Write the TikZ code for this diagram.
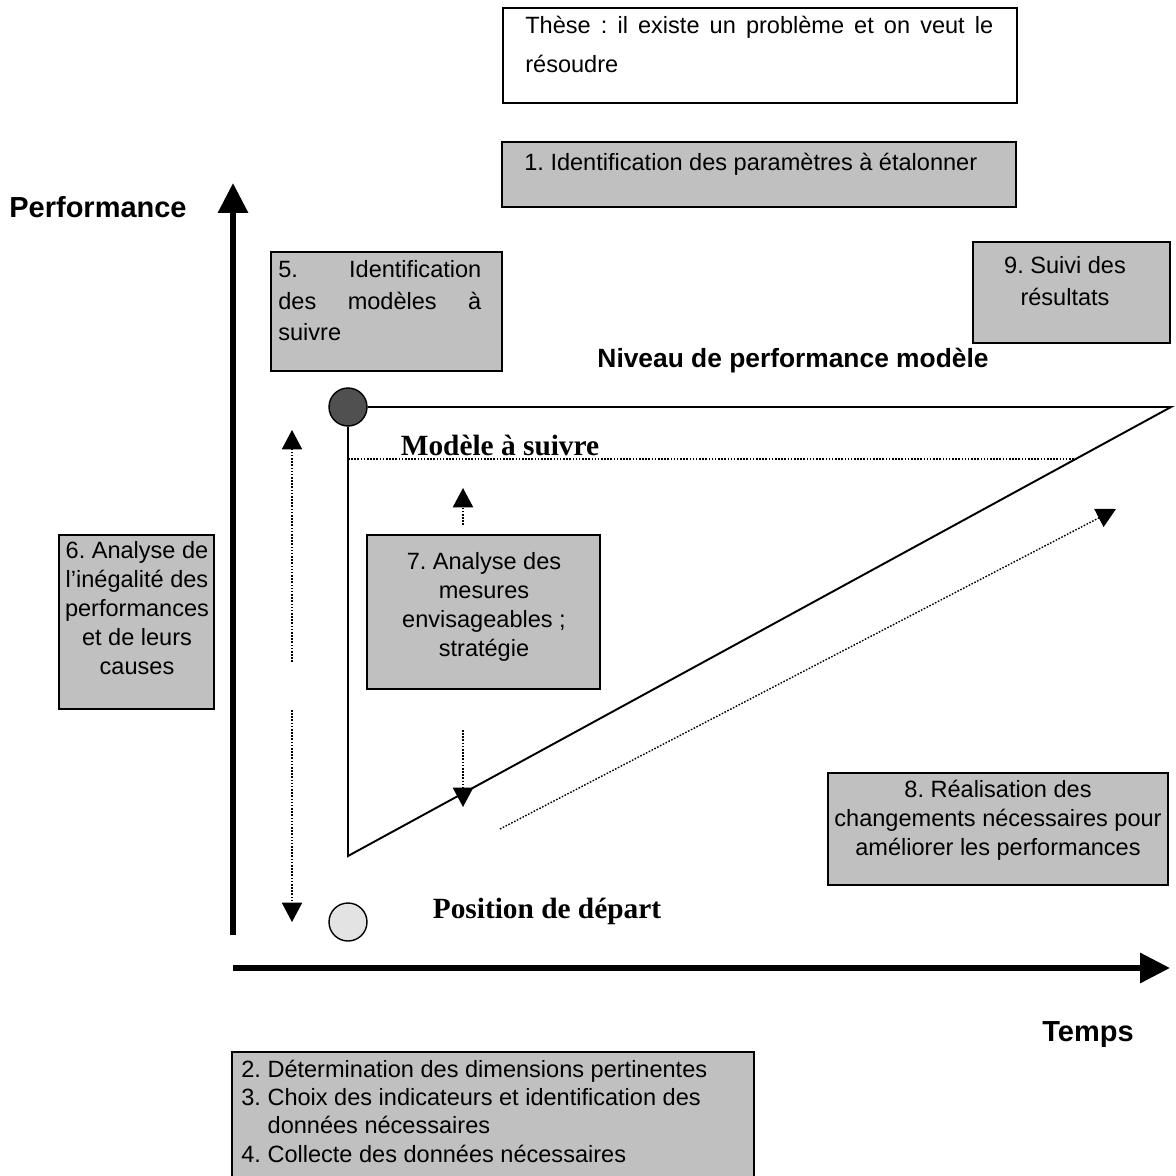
\documentclass[tikz,border=0pt]{standalone}
\usepackage{fontspec}
\setmainfont{Liberation Sans}
\newfontfamily\timesfont{Liberation Serif}
\usetikzlibrary{arrows.meta,fit}
\definecolor{boxgray}{HTML}{C0C0C0}
\definecolor{darkdisc}{HTML}{505050}
\definecolor{lightdisc}{HTML}{E3E3E3}

\begin{document}
\frenchspacing
\hyphenpenalty=10000
\begin{tikzpicture}[x=0.02cm, y=-0.02cm, >={Triangle[length=11pt,width=11.5pt]}]
\tikzstyle{boxframe}=[draw, line width=0.8pt, inner sep=0pt]
\tikzstyle{graybox}=[boxframe, fill=boxgray]
\tikzstyle{boxtext}=[inner sep=0pt, font=\fontsize{13.4}{16.5}\selectfont]
\tikzstyle{axislabel}=[inner sep=0pt, font=\fontsize{16.5}{20}\selectfont\bfseries]
\tikzstyle{levellabel}=[inner sep=0pt, font=\fontsize{16.7}{20}\selectfont\timesfont\bfseries]
\tikzstyle{disc}=[circle, draw, line width=0.8pt, minimum size=0.76cm, inner sep=0pt]
\tikzstyle{hint}=[->, line width=0.8pt, dash pattern=on 0.9pt off 0.9pt]
\tikzstyle{axisline}=[-{Triangle[length=17pt,width=16.5pt]}, line width=3.4pt]

\useasboundingbox (0,0) rectangle (1176,1176);
\clip (0,0) rectangle (1176,1176);

% boxes
\node[boxframe, fill=white, fit={(503,8) (1017,103)}] (these) {};
\node[graybox, fit={(502,142) (1016,207)}] (b1) {};
\node[graybox, fit={(271,252) (502,371)}] (b5) {};
\node[graybox, fit={(973,242) (1170,343)}] (b9) {};
\node[graybox, fit={(59,535) (214,709)}] (b6) {};
\node[graybox, fit={(367,535) (600,689)}] (b7) {};
\node[graybox, fit={(828,773) (1168,885)}] (b8) {};
\node[graybox, fit={(232,1052) (754,1190)}] (b24) {};

% box texts
\node[boxtext, anchor=north west, text width=9.36cm, align=justify, font=\fontsize{13.4}{22.2}\selectfont] (tthese) at (525,16) {Thèse : il existe un problème et on veut le\linebreak résoudre};
\node[boxtext, anchor=north west] (tone) at (524,153) {1. Identification des paramètres à étalonner};
\node[boxtext, anchor=north west, text width=4.06cm, align=justify, font=\fontsize{13.4}{18}\selectfont] (tfive) at (278,260) {5. Identification\linebreak des modèles à\linebreak suivre};
\node[boxtext, anchor=north, align=center, font=\fontsize{13.4}{18.2}\selectfont] (tnine) at (1065,256) {9. Suivi des\\résultats};
\node[boxtext, anchor=north, align=center] (tsix) at (137,541) {6. Analyse de\\l’inégalité des\\performances\\et de leurs\\causes};
\node[boxtext, anchor=north, align=center] (tseven) at (484,552) {7. Analyse des\\mesures\\envisageables ;\\stratégie};
\node[boxtext, anchor=north, align=center] (teight) at (998,780) {8. Réalisation des\\changements nécessaires pour\\améliorer les performances};
\node[boxtext, anchor=north west, align=left, font=\fontsize{13.4}{16}\selectfont] (ttwo) at (241,1060) {2. Détermination des dimensions pertinentes\\3. Choix des indicateurs et identification des\\\hspace*{15pt}données nécessaires\\4. Collecte des données nécessaires};

% labels
\node[axislabel, anchor=base] (perf) at (98,217) {Performance};
\node[axislabel, anchor=base] (temps) at (1088,1041) {Temps};
\node[axislabel, anchor=base, font=\fontsize{15}{18}\selectfont\bfseries] (niveau) at (793,367) {Niveau de performance modèle};
\node[levellabel, anchor=base] (modele) at (500,455) {Modèle à suivre};
\node[levellabel, anchor=base] (depart) at (547,918) {Position de départ};

% performance triangle
\node[disc, fill=darkdisc] (top) at (348,407) {};
\node[disc, fill=lightdisc] (start) at (348,922) {};
\coordinate (corner) at (348,856);
\coordinate (apex) at (1171,407);
\draw[line width=1.1pt] (top.east) -- (apex) -- (corner) -- (top.south);
\coordinate (m0) at (348,459);
\coordinate (m1) at (1078,459);
\draw[line width=0.8pt, dash pattern=on 0.9pt off 0.9pt] (m0) -- (m1);

% dotted arrows
\coordinate (gapup) at (292,662);
\coordinate (tipup) at (292,430);
\coordinate (gapdown) at (292,710);
\coordinate (tipdown) at (292,922);
\draw[hint] (gapup) -- (tipup);
\draw[hint] (gapdown) -- (tipdown);
\coordinate (s7up) at (463,525);
\coordinate (e7up) at (463,488);
\coordinate (s7down) at (463,730);
\coordinate (e7down) at (463,807);
\draw[hint] (s7up) -- (e7up);
\draw[hint] (s7down) -- (e7down);
\coordinate (gainfrom) at (500,829);
\coordinate (gainto) at (1116,509);
\draw[hint] (gainfrom) -- (gainto);

% axes
\coordinate (ybot) at (233,935);
\coordinate (ytop) at (233,183);
\coordinate (xleft) at (233,968);
\coordinate (xright) at (1170,968);
\draw[axisline] (ybot) -- (ytop);
\draw[axisline] (xleft) -- (xright);
\end{tikzpicture}
\end{document}
